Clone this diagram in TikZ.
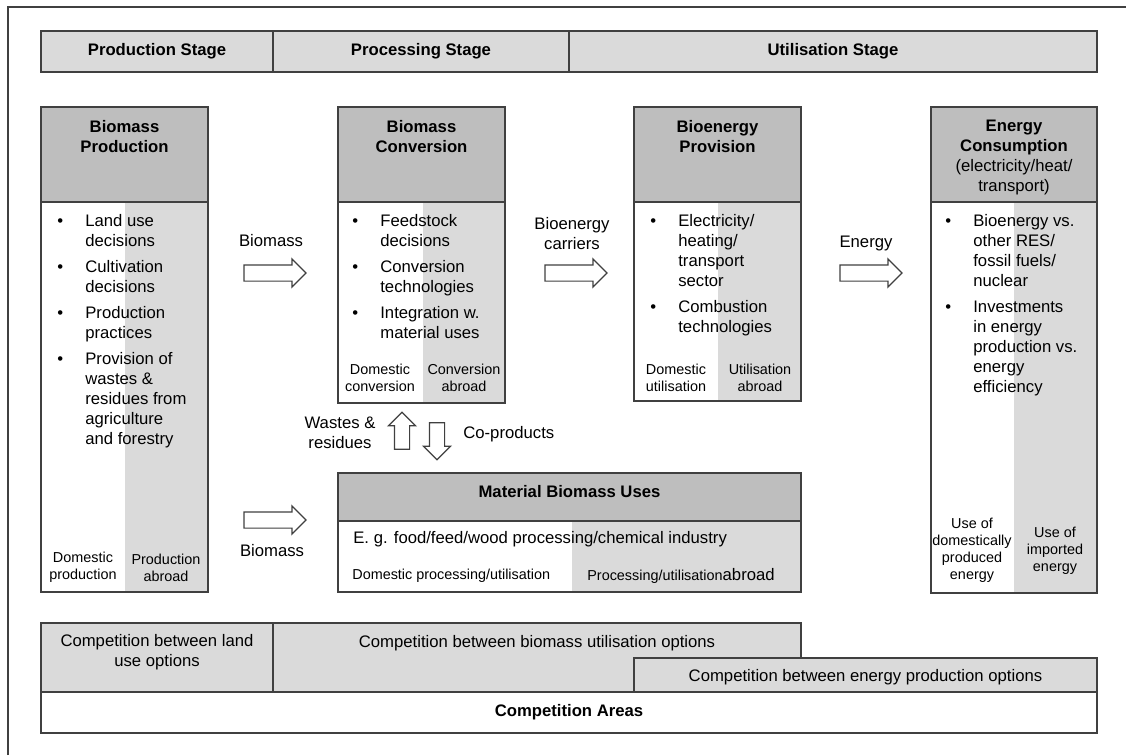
\documentclass[tikz,border=0pt]{standalone}
\usepackage{fontspec}
\setmainfont{Liberation Sans}
\usetikzlibrary{positioning,shapes.arrows}
\definecolor{hdrgray}{RGB}{190,190,190}
\definecolor{colgray}{RGB}{218,218,218}
\definecolor{linegray}{RGB}{64,64,64}
\newcommand{\nf}{\fontsize{9.5}{11.4}\selectfont}
\newcommand{\smf}{\fontsize{8.2}{9.7}\selectfont}
\newcommand{\blist}[1]{\begin{tabular}{@{}p{0.56cm}@{}l@{}}#1\end{tabular}}

\begin{document}
\begin{tikzpicture}[x=0.02cm,y=-0.02cm,
        wh/.style 2 args={minimum width=#1*0.02cm,minimum height=#2*0.02cm},
        box/.style={rectangle,draw=linegray,line width=0.8pt,inner sep=0pt,outer sep=0pt,anchor=north west},
]
\tikzstyle{stage}=[box,fill=colgray,font=\nf\bfseries]
\tikzstyle{hdr}=[box,fill=hdrgray]
\tikzstyle{col}=[rectangle,fill=colgray,inner sep=0pt,outer sep=0pt,anchor=north east]
\tikzstyle{ttl}=[anchor=north,align=center,inner sep=0pt,font=\nf\bfseries]
\tikzstyle{lst}=[anchor=north west,inner sep=0pt,font=\nf]
\tikzstyle{note}=[align=center,inner sep=0pt,font=\smf]
\tikzstyle{lbl}=[align=center,inner sep=0pt,font=\nf]
\tikzstyle{barrow}=[single arrow,draw=linegray,fill=white,line width=0.7pt,inner xsep=0pt,inner ysep=0.15cm,single arrow head extend=0.12cm,minimum height=1.24cm]
\tikzstyle{varrow}=[barrow,inner xsep=0.14cm,inner ysep=0pt,minimum height=0.74cm]

	\useasboundingbox (0,0) rectangle (1126,755);
	\draw[linegray,line width=1pt] (8,755) -- (8,7) -- (1126,7);

	% stages
	\node[stage,wh={232}{41}] (pst) at (41,31) {Production Stage};
	\node[stage,wh={296}{41}] (rst) at (pst.north east) {Processing Stage};
	\node[stage,wh={528}{41}] (ust) at (rst.north east) {Utilisation Stage};

	% biomass production
	\node[hdr,wh={167}{95}] (bph) at (41,107) {};
	\node[col,wh={83}{390}] (bpc) at (bph.south east) {};
	\node[box,wh={167}{390}] (bpb) at (bph.south west) {};
	\node[ttl,below=0.26cm of bph.north] (bpt) {Biomass\\Production};
	\node[lst] (bpl) at (57,212) {\blist{
		\textbullet & Land use\\ & decisions\\[3.4pt]
		\textbullet & Cultivation\\ & decisions\\[3.4pt]
		\textbullet & Production\\ & practices\\[3.4pt]
		\textbullet & Provision of\\ & wastes \&\\ & residues from\\ & agriculture\\ & and forestry}};
	\node[note] (bpn1) at (83,567.5) {Domestic\\production};
	\node[note] (bpn2) at (166,567.5) {Production\\abroad};

	% biomass conversion
	\node[hdr,wh={167}{95}] (bch) at (338,107) {};
	\node[col,wh={82}{201}] (bcc) at (bch.south east) {};
	\node[box,wh={167}{201}] (bcb) at (bch.south west) {};
	\node[ttl,below=0.26cm of bch.north] (bct) {Biomass\\Conversion};
	\node[lst] (bcl) at (352,212) {\blist{
		\textbullet & Feedstock\\ & decisions\\[3.4pt]
		\textbullet & Conversion\\ & technologies\\[3.4pt]
		\textbullet & Integration w.\\ & material uses}};
	\node[note] (bcn1) at (380,377.5) {Domestic\\conversion};
	\node[note] (bcn2) at (464,377.5) {Conversion\\abroad};

	% bioenergy provision
	\node[hdr,wh={167}{95}] (pvh) at (634,107) {};
	\node[col,wh={83}{199}] (pvc) at (pvh.south east) {};
	\node[box,wh={167}{199}] (pvb) at (pvh.south west) {};
	\node[ttl,below=0.26cm of pvh.north] (pvt) {Bioenergy\\Provision};
	\node[lst] (pvl) at (650,212) {\blist{
		\textbullet & Electricity/\\ & heating/\\ & transport\\ & sector\\[3.4pt]
		\textbullet & Combustion\\ & technologies}};
	\node[note] (pvn1) at (676,377.5) {Domestic\\utilisation};
	\node[note] (pvn2) at (760,377.5) {Utilisation\\abroad};

	% energy consumption
	\node[hdr,wh={166}{95}] (ech) at (931,107) {};
	\node[col,wh={83}{391}] (ecc) at (ech.south east) {};
	\node[box,wh={166}{391}] (ecb) at (ech.south west) {};
	\node[ttl,font=\nf,below=0.26cm of ech.north] (ect) {\textbf{Energy}\\\textbf{Consumption}\\(electricity/heat/\\transport)};
	\node[lst] (ecl) at (945,212) {\blist{
		\textbullet & Bioenergy vs.\\ & other RES/\\ & fossil fuels/\\ & nuclear\\[3.4pt]
		\textbullet & Investments\\ & in energy\\ & production vs.\\ & energy\\ & efficiency}};
	\node[note] (ecn1) at (972,550) {Use of\\domestically\\produced\\energy};
	\node[note] (ecn2) at (1055,551) {Use of\\imported\\energy};

	% material uses
	\node[hdr,wh={463}{48}] (mbh) at (338,473) {};
	\node[col,wh={229}{71}] (mbc) at (mbh.south east) {};
	\node[box,wh={463}{71}] (mbb) at (mbh.south west) {};
	\node[ttl,anchor=center] (mbt) at (569.5,492) {Material Biomass Uses};
	\node[lbl,anchor=west] (mbe) at (353,539) {E. g. food/feed/wood processing/chemical industry};
	\node[note,anchor=west] (mbn1) at (352,576) {Domestic processing/utilisation};
	\node[note,anchor=west] (mbn2) at (587,576) {Processing/utilisation{\nf abroad}};

	% flows
	\node[barrow] (ar1) at (271,273) {};
	\node[barrow] (ar2) at (572,273) {};
	\node[barrow] (ar3) at (867,273) {};
	\node[barrow] (ar4) at (271,520) {};
	\node[varrow,shape border rotate=90] (aup) at (402,434.5) {};
	\node[varrow,shape border rotate=270] (adn) at (437,437.5) {};
	\node[lbl] (lb1) at (271,241) {Biomass};
	\node[lbl] (lb2) at (572,234) {Bioenergy\\carriers};
	\node[lbl] (lb3) at (866,243) {Energy};
	\node[lbl] (lb4) at (272,551) {Biomass};
	\node[lbl] (lb5) at (340,433) {Wastes \&\\residues};
	\node[lbl,anchor=west] (lb6) at (463,434) {Co-products};

	% competition areas
	\node[box,fill=colgray,wh={232}{69}] (cld) at (41,623) {};
	\node[box,fill=colgray,wh={528}{69}] (cbu) at (cld.north east) {};
	\node[box,fill=colgray,wh={463}{34}] (cep) at (634,658) {};
	\node[box,fill=white,wh={1056}{41}] (car) at (cld.south west) {};
	\node[lbl] (cldt) at (157,652) {Competition between land\\use options};
	\node[lbl] (cbut) at (537,643) {Competition between biomass utilisation options};
	\node[lbl] (cept) at (865.5,677) {Competition between energy production options};
	\node[lbl,font=\nf\bfseries] (cart) at (569,712) {Competition Areas};

\end{tikzpicture}
\end{document}
